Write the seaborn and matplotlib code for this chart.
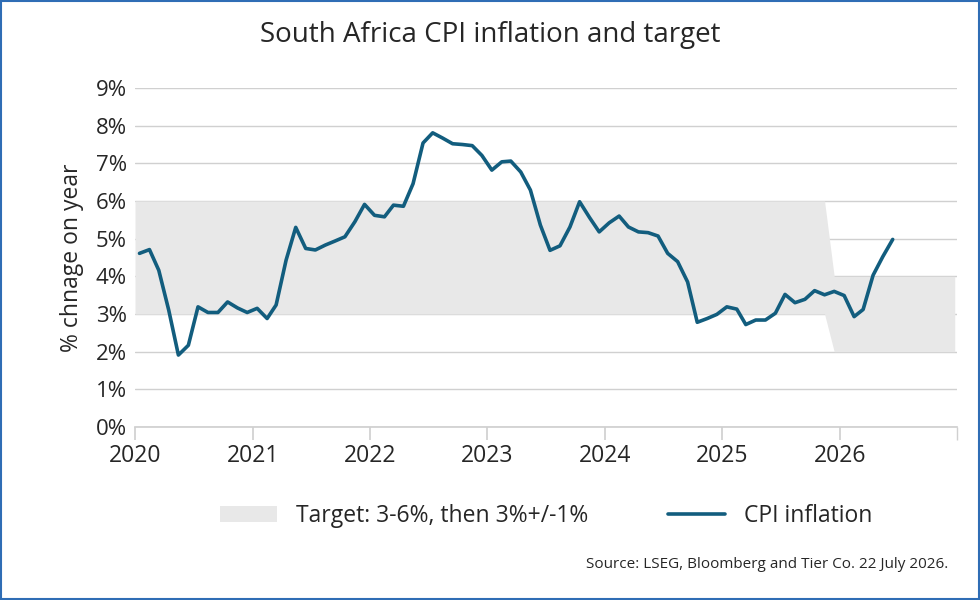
import pandas as pd
import numpy as np
import matplotlib.pyplot as plt
import seaborn as sns
from matplotlib.ticker import FuncFormatter

# === DATA (monthly CPI, % y/y) ===
CPI_START = "2020-01-01"
CPI_VALUES = [
    4.61, 4.71, 4.16, 3.10, 1.91, 2.17, 3.19, 3.04, 3.04, 3.32, 3.16, 3.04,   # 2020
    3.15, 2.88, 3.24, 4.43, 5.30, 4.74, 4.70, 4.83, 4.94, 5.05, 5.45, 5.91,   # 2021
    5.62, 5.58, 5.89, 5.86, 6.46, 7.54, 7.81, 7.67, 7.52, 7.50, 7.47, 7.21,   # 2022
    6.82, 7.04, 7.06, 6.77, 6.29, 5.36, 4.69, 4.81, 5.31, 5.98, 5.56, 5.18,   # 2023
    5.42, 5.60, 5.31, 5.18, 5.16, 5.07, 4.61, 4.39, 3.85, 2.78, 2.88, 2.99,   # 2024
    3.19, 3.13, 2.72, 2.84, 2.84, 3.02, 3.52, 3.30, 3.39, 3.62, 3.51, 3.60,   # 2025
    3.49, 2.93, 3.12, 4.03, 4.52, 4.98,                                       # 2026
]
# target band: 3-6% until Nov 2025, then 2-4%
BAND_DATES = ["2020-01-01", "2025-11-15", "2025-12-15", "2026-12-25"]
BAND_LOW = [3, 3, 2, 2]
BAND_HIGH = [6, 6, 4, 4]
YEARS = list(range(2020, 2028))

LINE_COLOR = "#125d7e"
BAND_COLOR = "#e8e8e8"

# plot monthly points at mid-month
df = pd.DataFrame({
    "date": pd.date_range(CPI_START, periods=len(CPI_VALUES), freq="MS") + pd.Timedelta(days=14),
    "cpi": CPI_VALUES,
})

sns.set_theme(style="white")
plt.rcParams["font.family"] = ["Open Sans", "DejaVu Sans"]

fig = plt.figure(figsize=(9.8, 6.0), dpi=100)
ax = fig.add_axes([135 / 980, 1 - 427 / 600, (957 - 135) / 980, (427 - 88) / 600])

ax.fill_between(pd.to_datetime(BAND_DATES), BAND_LOW, BAND_HIGH,
                color=BAND_COLOR, linewidth=0, label="Target: 3-6%, then 3%+/-1%")
sns.lineplot(data=df, x="date", y="cpi", ax=ax, color=LINE_COLOR,
             linewidth=2.6, label="CPI inflation")

ax.set_ylim(0, 9)
ax.set_yticks(range(0, 10))
ax.yaxis.set_major_formatter(FuncFormatter(lambda v, p: f"{v:.0f}%"))
ax.grid(axis="y", color="#d0d0d0", linewidth=1)
ax.set_axisbelow(True)

year_ticks = pd.to_datetime([f"{y}-01-01" for y in YEARS])
ax.set_xlim(year_ticks[0], year_ticks[-1])
ax.set_xticks(year_ticks[:-1])
ax.set_xticklabels([str(y) for y in YEARS[:-1]])
ax.set_xticks(year_ticks, minor=True)
ax.tick_params(axis="x", which="both", bottom=True, length=9, color="#d0d0d0",
               labelsize=16.5, pad=3)
ax.tick_params(axis="y", length=0, labelsize=16, pad=6)
for side in ["top", "right", "left"]:
    ax.spines[side].set_visible(False)
ax.spines["bottom"].set_color("#d0d0d0")

ax.set_xlabel("")
ax.set_ylabel("% chnage on year", fontsize=16.5, labelpad=8)

fig.suptitle("South Africa CPI inflation and target", fontsize=20, y=0.965)
ax.legend(loc="upper center", bbox_to_anchor=(0.5, -0.165), ncol=2, frameon=False,
          fontsize=16.5, handlelength=2.5, columnspacing=3.5)
fig.text(0.968, 0.053, "Source: LSEG, Bloomberg and Tier Co. 22 July 2026.",
         ha="right", fontsize=11)

fig.patches.append(plt.Rectangle((0.001, 0.001), 0.998, 0.998, transform=fig.transFigure,
                                 fill=False, edgecolor="#2f6db5", linewidth=1.5))

fig.savefig("out.png", dpi=100)
plt.close(fig)
